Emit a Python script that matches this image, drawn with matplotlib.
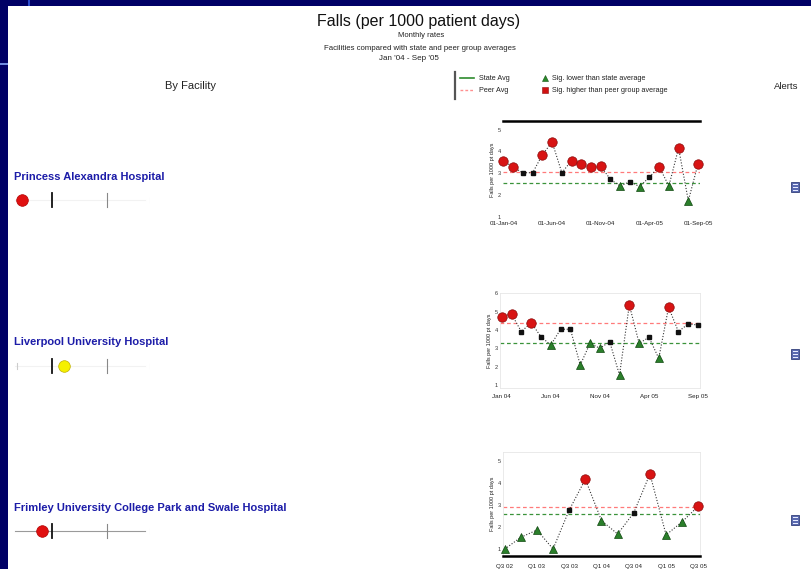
import numpy as np
import matplotlib
matplotlib.use("Agg")
import matplotlib.pyplot as plt
from matplotlib.patches import Rectangle

plt.rcParams['font.family'] = ['Liberation Sans', 'DejaVu Sans']

# ---------------- data ----------------
title = "Falls (per 1000 patient days)"
subtitle1 = "Monthly rates"
subtitle2 = "Facilities compared with state and peer group averages"
subtitle3 = "Jan '04 - Sep '05"

sites = ["Princess Alexandra Hospital",
         "Liverpool University Hospital",
         "Frimley University College Park and Swale Hospital"]

# left indicator (position on 0-100 scale) and its colour
ind_values = [8.6, 38.6, 22.9]
ind_colors = ["#e01010", "#f5f000", "#e01010"]
ind_ref_dark = 30.0
ind_ref_grey = 69.3

# control charts
chart1_vals = [3.58, 3.27, 3.02, 3.02, 3.85, 4.43, 3.02, 3.58, 3.40, 3.27, 3.32,
               2.71, 2.41, 2.61, 2.38, 2.82, 3.30, 2.41, 4.15, 1.73, 3.43]
chart1_upper = 3.05
chart1_lower = 2.53
chart1_xticks = [1, 6, 11, 16, 21]
chart1_xlabels = ["01-Jan-04", "01-Jun-04", "01-Nov-04", "01-Apr-05", "01-Sep-05"]

chart2_vals = [4.73, 4.87, 3.91, 4.40, 3.63, 3.18, 4.04, 4.04, 2.09, 3.27, 3.00,
               3.36, 1.54, 5.37, 3.27, 3.60, 2.45, 5.24, 3.91, 4.33, 4.27]
chart2_upper = 4.37
chart2_lower = 3.31
chart2_xticks = [1, 6, 11, 16, 21]
chart2_xlabels = ["Jan 04", "Jun 04", "Nov 04", "Apr 05", "Sep 05"]

chart3_vals = [0.99, 1.53, 1.86, 1.00, 2.77, 4.17, 2.29, 1.68, 2.65, 4.41, 1.64, 2.24, 2.95]
chart3_upper = 2.90
chart3_lower = 2.58
chart3_xticks = [1, 3, 5, 7, 9, 11, 13]
chart3_xlabels = ["Q3 02", "Q1 03", "Q3 03", "Q1 04", "Q3 04", "Q1 05", "Q3 05"]

legend_items = ["State Avg", "Peer Avg",
                "Sig. lower than state average",
                "Sig. higher than peer group average"]

# ---------------- layout ----------------
W, H = 812, 569
fig = plt.figure(figsize=(W / 100, H / 100), dpi=100)
fig.patch.set_facecolor("white")


def ax_px(x0, y0, x1, y1, **kw):
    return fig.add_axes([x0 / W, 1 - y1 / H, (x1 - x0) / W, (y1 - y0) / H], **kw)


bg = ax_px(0, 0, W, H)
bg.set_xlim(0, W)
bg.set_ylim(H, 0)
bg.axis("off")

navy = "#000066"
bg.add_patch(Rectangle((0, 0), W, 6, color=navy, lw=0))
bg.add_patch(Rectangle((0, 0), 8, H, color=navy, lw=0))
bg.add_patch(Rectangle((28, 0), 2, 6, color="#2a4acc", lw=0))
bg.add_patch(Rectangle((0, 63), 8, 2, color="#6f8be0", lw=0))

bg.text(419, 21, title, ha="center", va="center", fontsize=11.5, color="#111")
bg.text(421, 35, subtitle1, ha="center", va="center", fontsize=5.5, color="#222")
bg.text(420, 48, subtitle2, ha="center", va="center", fontsize=5.6, color="#222")
bg.text(409, 58, subtitle3, ha="center", va="center", fontsize=5.8, color="#222")

bg.text(191, 86, "By Facility", ha="center", va="center", fontsize=8, color="#222")
bg.text(786, 86, "Alerts", ha="center", va="center", fontsize=6.8, color="#222")

# legend
bg.plot([455, 455], [72, 99], color="#555", lw=1.6)
bg.plot([460, 474], [78, 78], color="#2e8b2e", lw=1.2)
bg.plot([460, 474], [90, 90], color="#ff9090", lw=1.0, ls=(0, (2, 1.5)))
bg.text(479, 78, legend_items[0], va="center", fontsize=5.2, color="#222")
bg.text(479, 90, legend_items[1], va="center", fontsize=5.2, color="#222")
bg.plot([545], [78], marker="^", ms=4.5, color="#2a8a2a", mec="#145214", mew=0.4)
bg.plot([545], [90], marker="s", ms=3.8, color="#d01010", mec="#901010", mew=0.4)
bg.text(552, 78, legend_items[2], va="center", fontsize=5.2, color="#222")
bg.text(552, 90, legend_items[3], va="center", fontsize=5.2, color="#222")

row_name_y = [177, 342, 508]
row_ind_y = [200, 366, 531]
icon_y = [187, 354, 520]

for i, name in enumerate(sites):
    bg.text(14, row_name_y[i], name, va="center", ha="left", fontsize=8,
            fontweight="bold", color="#1c1ca8")
    # icon
    bg.add_patch(Rectangle((791, icon_y[i] - 5), 8, 10, facecolor="#5a6ab0",
                           edgecolor="#33407a", lw=0.6))
    for k in range(3):
        bg.add_patch(Rectangle((793, icon_y[i] - 3 + 3 * k), 5, 1, color="#e8ecff", lw=0))

    ia = ax_px(10, row_ind_y[i] - 9, 150, row_ind_y[i] + 9)
    ia.set_xlim(0, 100)
    ia.set_ylim(-1, 1)
    ia.axis("off")
    ia.patch.set_alpha(0)
    line_col = "#9a9a9a" if i == 2 else "#f2f2f2"
    ia.plot([3.6, 96.4], [0, 0], color=line_col, lw=0.8, zorder=1)
    ia.plot([ind_ref_dark, ind_ref_dark], [-0.75, 0.75], color="#111", lw=1.3, zorder=2)
    ia.plot([ind_ref_grey, ind_ref_grey], [-0.75, 0.75], color="#888", lw=0.8, zorder=2)
    ia.plot([100, 100], [-0.2, 0.2], color="#dddddd", lw=0.8, zorder=2)
    if i == 1:
        ia.plot([5, 5], [-0.3, 0.3], color="#cccccc", lw=0.8, zorder=2)
    ia.scatter([ind_values[i]], [0], s=70, color=ind_colors[i],
               edgecolors="#c0b000" if ind_colors[i] == "#f5f000" else "#b00000",
               linewidths=0.5, zorder=3, clip_on=False)


def control(box, vals, upper, lower, xt, xl, ylim, yticks, xlim, top_black=False,
            bottom_black=False, xpad=1.5):
    ax = ax_px(*box)
    ax.patch.set_alpha(0)
    x = np.arange(1, len(vals) + 1)
    v = np.array(vals)
    ax.plot(x, v, color="#333", lw=0.8, ls=(0, (1, 1.6)), zorder=2)
    ax.axhline(upper, color="#ff7a7a", lw=0.9, ls=(0, (3, 2.2)), zorder=1)
    ax.axhline(lower, color="#3a933a", lw=0.9, ls=(0, (3, 2.2)), zorder=1)
    hi = v > upper
    lo = v < lower
    mid = ~(hi | lo)
    ax.plot(x[hi], v[hi], ls="none", marker="o", ms=6.8, color="#d81414",
            mec="#8a0a0a", mew=0.5, zorder=3, clip_on=False)
    ax.plot(x[lo], v[lo], ls="none", marker="^", ms=6, color="#2a7f2a",
            mec="#0f470f", mew=0.5, zorder=3, clip_on=False)
    ax.plot(x[mid], v[mid], ls="none", marker="s", ms=2.6, color="#111",
            zorder=3, clip_on=False)
    ax.set_xlim(*xlim)
    ax.set_ylim(*ylim)
    ax.set_xticks(xt)
    ax.set_xticklabels(xl, fontsize=4.5, color="#222")
    ax.set_yticks(yticks)
    ax.set_yticklabels([str(t) for t in yticks], fontsize=4, color="#333")
    ax.tick_params(axis="y", length=0, pad=1.5)
    ax.tick_params(axis="x", length=0, pad=xpad)
    for s in ax.spines.values():
        s.set_color("#e6e6e6")
        s.set_linewidth(0.6)
    if top_black:
        ax.spines["top"].set_color("#000")
        ax.spines["top"].set_linewidth(1.8)
        for k in ("left", "right", "bottom"):
            ax.spines[k].set_visible(False)
    if bottom_black:
        ax.spines["bottom"].set_color("#000")
        ax.spines["bottom"].set_linewidth(1.8)
    ax.set_ylabel("Falls per 1000 pt days", fontsize=4, color="#222", labelpad=2)
    return ax


control((503, 121, 700, 219), chart1_vals, chart1_upper, chart1_lower,
        chart1_xticks, chart1_xlabels, (0.895, 5.395), [1, 2, 3, 4, 5],
        (0.95, 21.2), top_black=True)
control((500, 293, 700, 388), chart2_vals, chart2_upper, chart2_lower,
        chart2_xticks, chart2_xlabels, (0.83, 6.02), [1, 2, 3, 4, 5, 6],
        (0.827, 21.2), xpad=4)
control((503, 452, 700, 556), chart3_vals, chart3_upper, chart3_lower,
        chart3_xticks, chart3_xlabels, (0.68, 5.41), [1, 2, 3, 4, 5],
        (0.9, 13.1), bottom_black=True, xpad=5.5)

fig.savefig("out.png", dpi=100, facecolor="white")
